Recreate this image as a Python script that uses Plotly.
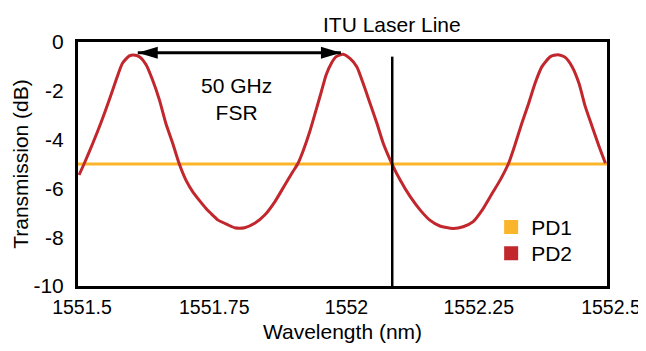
import plotly.graph_objects as go

# ---- data ----
wavelength_nm = [
    1551.502, 1551.512, 1551.528, 1551.543, 1551.559, 1551.572, 1551.584, 1551.597,
    1551.605, 1551.616, 1551.629, 1551.641, 1551.654, 1551.666, 1551.679, 1551.691,
    1551.704, 1551.717, 1551.729, 1551.742, 1551.751, 1551.765, 1551.784, 1551.796,
    1551.815, 1551.834, 1551.853, 1551.872, 1551.891, 1551.906, 1551.916, 1551.925,
    1551.938, 1551.950, 1551.960, 1551.969, 1551.979, 1551.988, 1552.001, 1552.014,
    1552.027, 1552.039, 1552.052, 1552.065, 1552.077, 1552.093, 1552.109, 1552.128,
    1552.147, 1552.165, 1552.184, 1552.209, 1552.228, 1552.247, 1552.264, 1552.283,
    1552.298, 1552.314, 1552.327, 1552.339, 1552.352, 1552.364, 1552.377, 1552.393,
    1552.407, 1552.421, 1552.434, 1552.447, 1552.459, 1552.472, 1552.484, 1552.497,
]
pd2_db = [
    -5.45, -4.97, -4.15, -3.33, -2.38, -1.56, -0.87, -0.57,
    -0.53, -0.60, -0.94, -1.56, -2.38, -3.33, -4.15, -4.97,
    -5.66, -6.14, -6.48, -6.82, -7.02, -7.30, -7.50, -7.61,
    -7.61, -7.43, -7.09, -6.55, -5.86, -5.32, -4.97, -4.50,
    -3.68, -2.79, -2.04, -1.35, -0.87, -0.60, -0.50, -0.67,
    -1.01, -1.69, -2.51, -3.33, -4.15, -4.97, -5.66, -6.34,
    -6.89, -7.30, -7.54, -7.64, -7.57, -7.36, -6.89, -6.20,
    -5.66, -4.97, -4.15, -3.33, -2.51, -1.69, -1.01, -0.60,
    -0.52, -0.63, -1.01, -1.69, -2.65, -3.47, -4.22, -4.97,
]
pd1_wavelength_nm = [1551.5, 1552.5]
pd1_db = [-5.0, -5.0]

itu_wavelength_nm = 1552.094
itu_line_db = [-0.6, -10.0]

fsr_arrow_nm = [1551.613, 1551.997]
fsr_arrow_db = -0.44
fsr_label_nm = 1551.80
fsr_label_db = -2.32

x_tick_vals = [1551.5, 1551.75, 1552, 1552.25, 1552.5]
x_tick_text = ["1551.5", "1551.75", "1552", "1552.25", "1552.5"]
y_tick_vals = [0, -2, -4, -6, -8, -10]
y_tick_text = ["0", "-2", "-4", "-6", "-8", "-10"]

ORANGE = "#FBB52B"
RED = "#C1272D"
FONT = "Liberation Sans, Arial, sans-serif"

fig = go.Figure()
fig.add_trace(go.Scatter(x=pd1_wavelength_nm, y=pd1_db, mode="lines",
                         line=dict(color=ORANGE, width=3), showlegend=False))
fig.add_trace(go.Scatter(x=wavelength_nm, y=pd2_db, mode="lines",
                         line=dict(color=RED, width=3, shape="spline", smoothing=0.6),
                         showlegend=False))
fig.add_trace(go.Scatter(x=[itu_wavelength_nm, itu_wavelength_nm], y=itu_line_db, mode="lines",
                         line=dict(color="black", width=2.5), showlegend=False))
# legend entries (square swatches)
fig.add_trace(go.Scatter(x=[None], y=[None], mode="markers", name="PD1", legend="legend",
                         marker=dict(symbol="square", size=14, color=ORANGE)))
fig.add_trace(go.Scatter(x=[None], y=[None], mode="markers", name="PD2", legend="legend2",
                         marker=dict(symbol="square", size=14, color=RED)))

shapes = [
    dict(type="line", xref="x", yref="y", x0=fsr_arrow_nm[0], x1=fsr_arrow_nm[1],
         y0=fsr_arrow_db, y1=fsr_arrow_db, line=dict(color="black", width=3)),
    dict(type="path", xref="x", yref="y", xsizemode="pixel", ysizemode="pixel",
         xanchor=fsr_arrow_nm[0], yanchor=fsr_arrow_db,
         path="M0,0 L20,6 L20,-6 Z", fillcolor="black", line=dict(width=0)),
    dict(type="path", xref="x", yref="y", xsizemode="pixel", ysizemode="pixel",
         xanchor=fsr_arrow_nm[1], yanchor=fsr_arrow_db,
         path="M0,0 L-20,6 L-20,-6 Z", fillcolor="black", line=dict(width=0)),
]

annotations = [
    dict(x=itu_wavelength_nm, y=1.072, xref="x", yref="paper", text="ITU Laser Line",
         xanchor="center", yanchor="middle",
         showarrow=False, font=dict(size=21, color="black", family=FONT)),
    dict(x=fsr_label_nm, y=fsr_label_db, xref="x", yref="y", text="50 GHz<br>FSR",
         xanchor="center", yanchor="middle",
         showarrow=False, font=dict(size=21, color="black", family=FONT)),
]

legend_style = dict(xanchor="left", yanchor="top", bgcolor="rgba(0,0,0,0)",
                    font=dict(size=21, family=FONT, color="black"))

fig.update_layout(
    width=646, height=351,
    margin=dict(l=70, r=47, t=34, b=73),
    paper_bgcolor="white", plot_bgcolor="white",
    font=dict(family=FONT, size=21, color="black"),
    shapes=shapes, annotations=annotations,
    legend=dict(x=0.781, y=0.324, **legend_style),
    legend2=dict(x=0.781, y=0.217, **legend_style),
)
fig.update_xaxes(range=[1551.5, 1552.5], tickvals=x_tick_vals, ticktext=x_tick_text,
                 showgrid=False, zeroline=False, showline=True, linecolor="black",
                 linewidth=3, mirror=True, ticks="", ticklabelshift=4, ticklabelstandoff=2,
                 tickfont=dict(size=19.5), automargin=False,
                 title=dict(text="Wavelength (nm)", standoff=7, font=dict(size=21)))
fig.update_yaxes(range=[-10, 0], tickvals=y_tick_vals, ticktext=y_tick_text,
                 showgrid=False, zeroline=False, showline=True, linecolor="black",
                 linewidth=3, mirror=True, ticks="", ticklabelstandoff=7,
                 tickfont=dict(size=21), automargin=False,
                 title=dict(text="Transmission (dB)", standoff=0, font=dict(size=21)))

fig.write_html("out.html")
